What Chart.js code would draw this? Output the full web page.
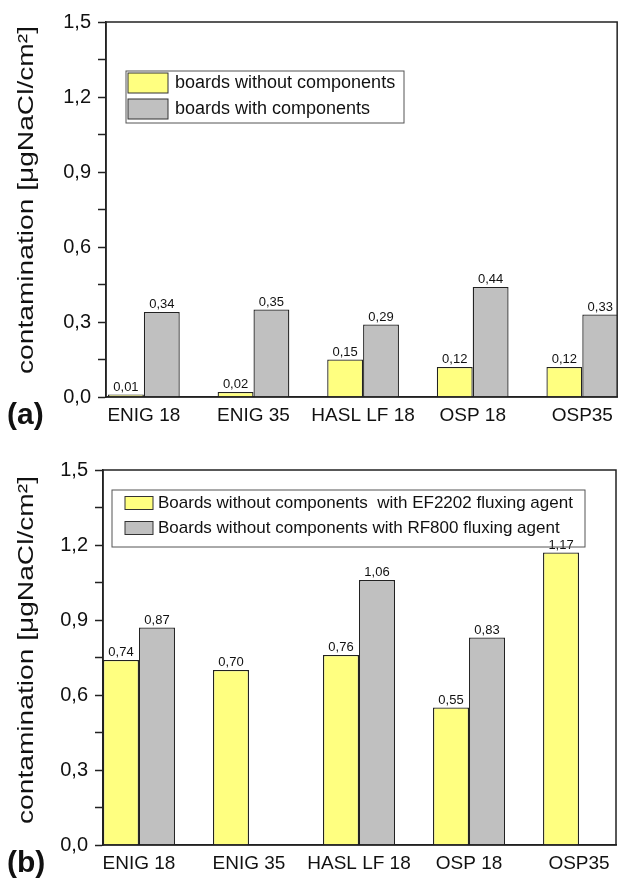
<!DOCTYPE html>
<html>
<head>
<meta charset="utf-8">
<script src="https://cdn.jsdelivr.net/npm/chart.js@4.4.1/dist/chart.umd.min.js"></script>
<style>
  body { margin: 0; background: #fff; }
  .panel { width: 620px; height: 442px; position: relative; }
</style>
</head>
<body>
<div class="panel"><canvas id="chartA" width="620" height="442"></canvas></div>
<div class="panel"><canvas id="chartB" width="620" height="442"></canvas></div>
<script>
// Chart data
const categories = ["ENIG 18", "ENIG 35", "HASL LF 18", "OSP 18", "OSP35"];

// panel (a)
const withoutComponents = [0.01, 0.02, 0.15, 0.12, 0.12];
const withComponents = [0.34, 0.35, 0.29, 0.44, 0.33];

// panel (b)
const fluxEF2202 = [0.74, 0.70, 0.76, 0.55, 1.17];
const fluxRF800 = [0.87, null, 1.06, 0.83, null];

const yMin = 0;
const yMax = 1.5;
const yStep = 0.15; // minor step, labels every 0.3

const yTitle = "contamination [\u03BCgNaCl/cm\u00B2]";
const FONT = '"Liberation Sans", Arial, sans-serif';
const YELLOW = "#ffff80";
const GRAY = "#c0c0c0";

// turn a list of values into {x, y} points on the numeric category axis
function toPoints(values) {
  return values.map((v, i) => ({ x: i + 1, y: v }));
}

function formatComma(v, digits) {
  return v.toFixed(digits).replace(".", ",");
}

// Value labels above every bar
const valueLabels = {
  id: "valueLabels",
  afterDatasetsDraw(chart) {
    const ctx = chart.ctx;
    ctx.save();
    ctx.font = "13px " + FONT;
    ctx.fillStyle = "#111";
    ctx.textAlign = "center";
    ctx.textBaseline = "alphabetic";
    chart.data.datasets.forEach((ds, di) => {
      const meta = chart.getDatasetMeta(di);
      meta.data.forEach((bar, i) => {
        const v = ds.data[i].y;
        if (v === null) return;
        ctx.fillText(formatComma(v, 2), bar.x, bar.y - 4);
      });
    });
    ctx.restore();
  },
};

// Frame, rotated y title, panel letter and boxed legend
const panelDecor = {
  id: "panelDecor",
  afterDraw(chart, args, opts) {
    const ctx = chart.ctx;
    const a = chart.chartArea;
    ctx.save();

    // frame round the plot
    ctx.strokeStyle = "#222";
    ctx.lineWidth = 1.5;
    ctx.strokeRect(a.left, a.top, a.right - a.left, a.bottom - a.top);

    // y axis title (stretched a bit, like the original)
    ctx.save();
    ctx.translate(opts.titleX, opts.titleY);
    ctx.rotate(-Math.PI / 2);
    ctx.scale(1.28, 1);
    ctx.font = "22px " + FONT;
    ctx.fillStyle = "#111";
    ctx.textAlign = "center";
    ctx.textBaseline = "middle";
    ctx.fillText(yTitle, 0, 0);
    ctx.restore();

    // panel letter
    ctx.font = "bold 30px " + FONT;
    ctx.fillStyle = "#111";
    ctx.textAlign = "left";
    ctx.textBaseline = "alphabetic";
    ctx.fillText(opts.letter, 7, opts.letterY);

    // legend
    const lg = opts.legend;
    ctx.strokeStyle = "#555";
    ctx.lineWidth = 1;
    ctx.strokeRect(lg.x, lg.y, lg.w, lg.h);
    ctx.font = lg.fontSize + "px " + FONT;
    ctx.textBaseline = "middle";
    chart.data.datasets.forEach((ds, i) => {
      const cy = lg.rows[i];
      ctx.fillStyle = ds.backgroundColor;
      ctx.fillRect(lg.swX, cy - lg.swH / 2, lg.swW, lg.swH);
      ctx.strokeStyle = "#333";
      ctx.strokeRect(lg.swX, cy - lg.swH / 2, lg.swW, lg.swH);
      ctx.fillStyle = "#111";
      ctx.fillText(ds.label, lg.textX, cy);
    });

    ctx.restore();
  },
};

function makeChart(canvasId, datasets, layout) {
  return new Chart(document.getElementById(canvasId), {
    type: "bar",
    data: { datasets: datasets },
    options: {
      responsive: false,
      animation: false,
      devicePixelRatio: 1,
      layout: { padding: { top: layout.top, right: layout.right, left: 0, bottom: 0 } },
      datasets: {
        bar: {
          categoryPercentage: 0.6545,
          barPercentage: 1,
          borderColor: "#222",
          borderWidth: 1.3,
        },
      },
      scales: {
        x: {
          type: "linear",
          min: layout.xMin,
          max: layout.xMax,
          offset: false,
          grid: { display: false, drawTicks: false, offset: false },
          border: { display: true, color: "#222", width: 1.5 },
          afterBuildTicks: (scale) => {
            scale.ticks = categories.map((c, i) => ({ value: i + 1 }));
          },
          afterFit: (scale) => {
            scale.height = layout.xHeight;
          },
          ticks: {
            autoSkip: false,
            maxRotation: 0,
            padding: 7,
            color: "#111",
            font: { family: FONT, size: 19 },
            callback: (v) => categories[Math.round(v) - 1],
          },
        },
        y: {
          min: yMin,
          max: yMax,
          grid: {
            drawOnChartArea: false,
            drawTicks: true,
            tickLength: 8,
            tickColor: "#222",
            tickWidth: 1.5,
          },
          border: { display: true, color: "#222", width: 1.5 },
          afterFit: (scale) => {
            scale.width = layout.left;
          },
          ticks: {
            stepSize: yStep,
            padding: 7,
            color: "#111",
            font: { family: FONT, size: 20 },
            callback: (v) => (Math.round(v / yStep) % 2 === 0 ? formatComma(v, 1) : ""),
          },
        },
      },
      plugins: {
        legend: { display: false },
        tooltip: { enabled: false },
        panelDecor: layout.decor,
      },
    },
    plugins: [valueLabels, panelDecor],
  });
}

document.addEventListener("DOMContentLoaded", function () {
  // panel (a)
  makeChart(
    "chartA",
    [
      { label: "boards without components", data: toPoints(withoutComponents), backgroundColor: YELLOW },
      { label: "boards with components", data: toPoints(withComponents), backgroundColor: GRAY },
    ],
    {
      top: 22,
      right: 1,
      left: 106,
      xHeight: 45,
      xMin: 0.6545,
      xMax: 5.318,
      decor: {
        titleX: 27,
        titleY: 200,
        letter: "(a)",
        letterY: 424,
        legend: { x: 126, y: 71, w: 278, h: 52, swX: 128, swW: 40, swH: 20, rows: [83, 109], textX: 175, fontSize: 18 },
      },
    }
  );

  // panel (b)
  makeChart(
    "chartB",
    [
      { label: "Boards without components  with EF2202 fluxing agent", data: toPoints(fluxEF2202), backgroundColor: YELLOW },
      { label: "Boards without components with RF800 fluxing agent", data: toPoints(fluxRF800), backgroundColor: GRAY },
    ],
    {
      top: 28,
      right: 4,
      left: 103,
      xHeight: 39,
      xMin: 0.673,
      xMax: 5.336,
      decor: {
        titleX: 27,
        titleY: 208,
        letter: "(b)",
        letterY: 430,
        legend: { x: 112, y: 48, w: 473, h: 57, swX: 125, swW: 28, swH: 13, rows: [61, 86], textX: 158, fontSize: 17 },
      },
    }
  );
});
</script>
</body>
</html>
